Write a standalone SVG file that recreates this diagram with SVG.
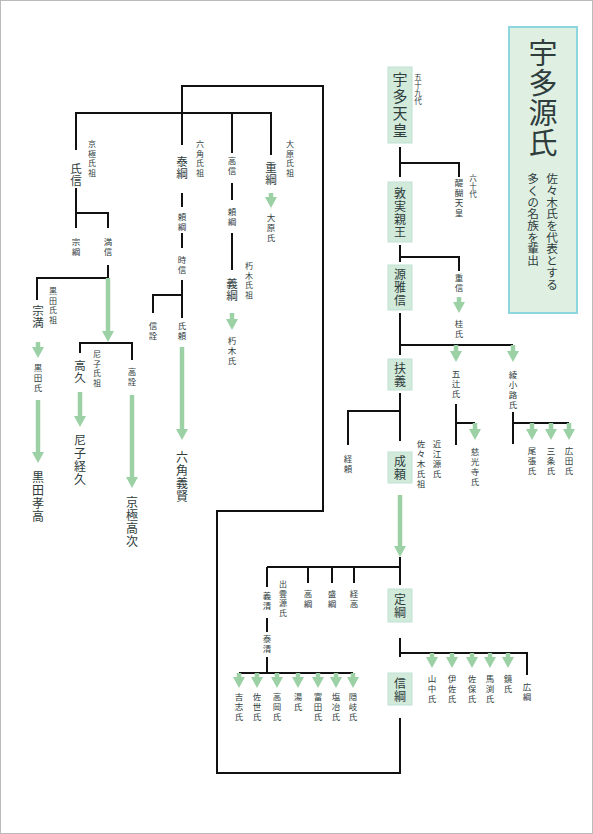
<svg xmlns="http://www.w3.org/2000/svg" width="593" height="834" viewBox="0 0 593 834">
<style>
text{font-family:"Noto Sans CJK JP","Noto Sans CJK SC",sans-serif;fill:#2f3d3d;writing-mode:vertical-rl;text-anchor:middle}
.b{font-size:12px;letter-spacing:1px}
.bb{font-size:15px;letter-spacing:2px}
.m{font-size:11.5px;letter-spacing:1px}
.s{font-size:8.5px;letter-spacing:1.5px}
.xs{font-size:8px;letter-spacing:1.5px}
.xxs{font-size:7.5px;letter-spacing:0.5px}
.st{text-anchor:start}
.box{fill:#d2eada;stroke:#bfe2d6;stroke-width:1}
.ln{fill:none;stroke:#111;stroke-width:2}
.ar{fill:none;stroke:#9bd1a5;stroke-width:4.5;marker-end:url(#ah)}
</style>
<defs>
<marker id="ah" viewBox="0 0 11 12" refX="0" refY="6" markerWidth="11" markerHeight="12" markerUnits="userSpaceOnUse" orient="auto">
<path d="M0,0 L11,6 L0,12 Z" fill="#9bd1a5"/>
</marker>
</defs>
<rect x="0.5" y="0.5" width="592" height="833" fill="#fff" stroke="#bbb"/>

<g id="title">
<rect x="509" y="27" width="68" height="286" fill="#dff0e3" stroke="#8ed6df" stroke-width="2"/>
<text x="543" y="98" style="font-size:29px;letter-spacing:1px">宇多源氏</text>
<text x="552" y="173" class="st" style="font-size:11.7px">佐々木氏を代表とする</text>
<text x="533" y="173" class="st" style="font-size:11.7px">多くの名族を輩出</text>
</g>

<g id="connectors">
<path class="ln" d="M400,147 V177 M400,163 H459 V177"/>
<path class="ln" d="M400,245 V262 M400,257 H459 V271"/>
<path class="ln" d="M400,313 V355 M400,345 H513"/>
<path class="ln" d="M400,393 V441 M400,411 H348 V445"/>
<path class="ln" d="M456,404 V445 M456,423 H475"/>
<path class="ln" d="M513,412 V444 M513,423 H569"/>
<path class="ln" d="M400,557 V585 M267,567 H400 M267,567 V587 M308,567 V583 M332,567 V583 M354,567 V583"/>
<path class="ln" d="M267,618 V632 M267,657 V673 M239,673 H353"/>
<path class="ln" d="M400,638 V657 M400,653 H527 V675"/>
<path class="ln" d="M400,718 V773 H217 V511 H323 V86 H182 V145 M76,150 V113 H271 V155 M232,113 V153"/>
<path class="ln" d="M76,188 V228 M76,213 H108 V228"/>
<path class="ln" d="M108,265 V278 H37 V300"/>
<path class="ln" d="M80,353 V343 H132 V360"/>
<path class="ln" d="M182,193 V207 M182,233 V248 M182,280 V318 M182,295 H153 V313"/>
<path class="ln" d="M232,183 V200 M232,233 V270"/>
<path class="ar" d="M459,297 V302"/>
<path class="ar" d="M456,345 V351"/>
<path class="ar" d="M513,345 V351"/>
<path class="ar" d="M475,423 V429"/>
<path class="ar" d="M532,423 V429"/>
<path class="ar" d="M551,423 V429"/>
<path class="ar" d="M569,423 V429"/>
<path class="ar" d="M400,495 V546"/>
<path class="ar" d="M239,673 V677"/>
<path class="ar" d="M257,673 V677"/>
<path class="ar" d="M277,673 V677"/>
<path class="ar" d="M298,673 V677"/>
<path class="ar" d="M318,673 V677"/>
<path class="ar" d="M336,673 V677"/>
<path class="ar" d="M353,673 V677"/>
<path class="ar" d="M432,653 V657"/>
<path class="ar" d="M452,653 V657"/>
<path class="ar" d="M472,653 V657"/>
<path class="ar" d="M490,653 V657"/>
<path class="ar" d="M508,653 V657"/>
<path class="ar" d="M108,278 V331"/>
<path class="ar" d="M38,342 V347"/>
<path class="ar" d="M38,400 V452"/>
<path class="ar" d="M80,392 V416"/>
<path class="ar" d="M132,395 V477"/>
<path class="ar" d="M182,347 V429"/>
<path class="ar" d="M232,313 V319"/>
<path class="ar" d="M271,193 V197"/>
</g>

<g id="uda"><rect class="box" x="388" y="67" width="24" height="76"/><text class="bb" x="400" y="106">宇多天皇</text><text class="xxs" x="418" y="89">五十九代</text></g>
<g id="daigo"><text class="s" x="459" y="199">醍醐天皇</text><text class="xxs" x="473" y="186">六十代</text></g>
<g id="atsuzane"><rect class="box" x="388" y="182" width="24" height="60"/><text class="b" x="400" y="213">敦実親王</text></g>
<g id="shigenobu"><text class="s" x="459" y="284">重信</text></g>
<g id="katsura"><text class="s" x="459" y="330">桂氏</text></g>
<g id="masanobu"><rect class="box" x="388" y="265" width="24" height="45"/><text class="b" x="400" y="288">源雅信</text></g>
<g id="sukeyoshi"><rect class="box" x="388" y="359" width="24" height="31"/><text class="b" x="400" y="375">扶義</text></g>
<g id="itsutsuji"><text class="s" x="456" y="385">五辻氏</text></g>
<g id="ayanokoji"><text class="s" x="513" y="391">綾小路氏</text></g>
<g id="jikoji"><text class="s" x="475" y="468">慈光寺氏</text></g>
<g id="owari"><text class="s st" x="532" y="447">尾張氏</text></g>
<g id="sanjo"><text class="s st" x="551" y="447">三条氏</text></g>
<g id="hirota"><text class="s st" x="569" y="447">広田氏</text></g>
<g id="tsuneyori"><text class="s" x="348" y="465">経頼</text></g>
<g id="nariyori"><rect class="box" x="388" y="452" width="24" height="31"/><text class="b" x="400" y="468">成頼</text><text class="s st" x="437" y="440">近江源氏</text><text class="s st" x="421" y="440">佐々木氏祖</text></g>

<g id="ujinobu"><text class="m" x="76" y="175">氏信</text><text class="xs st" x="92" y="140">京極氏祖</text></g>
<g id="munetsuna"><text class="s" x="76" y="248">宗綱</text></g>
<g id="mitsunobu"><text class="s" x="108" y="248">満信</text></g>
<g id="munemitsu"><text class="m" x="38" y="317">宗満</text><text class="xs st" x="53" y="287">黒田氏祖</text></g>
<g id="kurodashi"><text class="s" x="38" y="379">黒田氏</text></g>
<g id="yoshitaka"><text class="b" x="38" y="497">黒田孝高</text></g>
<g id="takahisa"><text class="m" x="80" y="372">高久</text><text class="xs st" x="97" y="350">尼子氏祖</text></g>
<g id="tsunehisa"><text class="b" x="80" y="460">尼子経久</text></g>
<g id="takanori"><text class="s" x="132" y="378">高詮</text></g>
<g id="takatsugu"><text class="b" x="132" y="522">京極高次</text></g>
<g id="yasutsuna"><text class="m" x="182" y="168">泰綱</text><text class="xs st" x="200" y="140">六角氏祖</text></g>
<g id="yoritsuna1"><text class="s" x="182" y="223">頼綱</text></g>
<g id="tokinobu"><text class="s" x="182" y="266">時信</text></g>
<g id="nobunori"><text class="s" x="153" y="332">信詮</text></g>
<g id="ujiyori"><text class="s" x="182" y="332">氏頼</text></g>
<g id="yoshikata"><text class="b" x="182" y="477">六角義賢</text></g>
<g id="takanobu"><text class="s" x="232" y="167">高信</text></g>
<g id="yoritsuna2"><text class="s" x="232" y="218">頼綱</text></g>
<g id="yoshitsuna"><text class="m" x="232" y="290">義綱</text><text class="xs st" x="249" y="262">朽木氏祖</text></g>
<g id="kutsuki"><text class="s" x="232" y="352">朽木氏</text></g>
<g id="shigetsuna"><text class="m" x="271" y="174">重綱</text><text class="xs st" x="290" y="140">大原氏祖</text></g>
<g id="ohara"><text class="s" x="271" y="229">大原氏</text></g>

<g id="sadatsuna"><rect class="box" x="388" y="589" width="24" height="33"/><text class="b" x="400" y="606">定綱</text></g>
<g id="yoshikiyo"><text class="s" x="267" y="602">義清</text><text class="xs st" x="283" y="580">出雲源氏</text></g>
<g id="takatsuna"><text class="s" x="308" y="600">高綱</text></g>
<g id="moritsuna"><text class="s" x="332" y="600">盛綱</text></g>
<g id="tsunetaka"><text class="s" x="354" y="600">経高</text></g>
<g id="yasukiyo"><text class="s" x="267" y="645">泰清</text></g>
<g id="izumo-clans">
<text class="s st" x="239" y="693">吉志氏</text>
<text class="s st" x="257" y="693">佐世氏</text>
<text class="s st" x="277" y="693">高岡氏</text>
<text class="s st" x="298" y="693">湯氏</text>
<text class="s st" x="318" y="693">富田氏</text>
<text class="s st" x="336" y="693">塩冶氏</text>
<text class="s st" x="353" y="693">隠岐氏</text>
</g>
<g id="nobutsuna"><rect class="box" x="388" y="673" width="24" height="32"/><text class="b" x="400" y="690">信綱</text></g>
<g id="nobutsuna-clans">
<text class="s st" x="432" y="675">山中氏</text>
<text class="s st" x="452" y="675">伊佐氏</text>
<text class="s st" x="472" y="675">佐保氏</text>
<text class="s st" x="490" y="675">馬渕氏</text>
<text class="s st" x="508" y="675">鏡氏</text>
<text class="s st" x="527" y="683">広綱</text>
</g>
</svg>
